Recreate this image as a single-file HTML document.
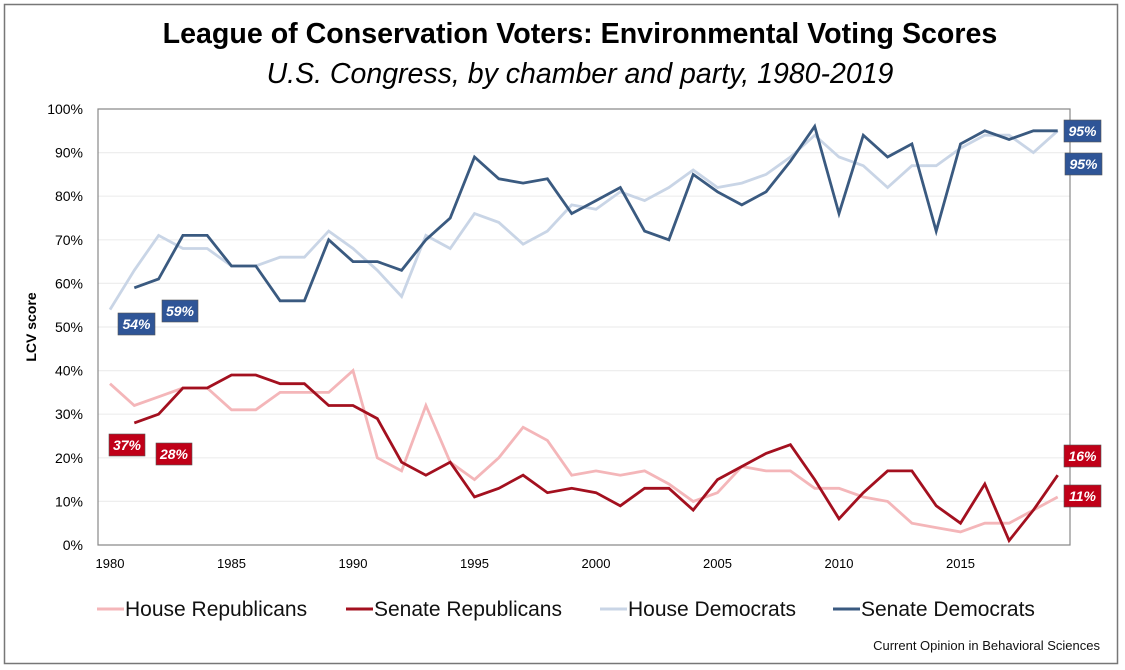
<!DOCTYPE html>
<html><head><meta charset="utf-8"><style>
body{margin:0;background:#fff;}
svg{display:block;font-family:"Liberation Sans",Arial,sans-serif;}
</style></head><body>
<svg id="chart" width="1125" height="670" viewBox="0 0 1125 670">
<rect x="4.5" y="4.5" width="1113" height="659" fill="#fff" stroke="#777" stroke-width="1.5"/>
<text x="580" y="43" text-anchor="middle" font-size="28.6" font-weight="bold" fill="#000">League of Conservation Voters: Environmental Voting Scores</text>
<text x="580" y="83" text-anchor="middle" font-size="28.5" font-style="italic" fill="#000">U.S. Congress, by chamber and party, 1980-2019</text>
<g id="grid"></g>
<rect x="98" y="109" width="972" height="436" fill="none" stroke="#888" stroke-width="1.2"/>
<g id="yt"></g><g id="xt"></g>
<text transform="translate(36,327) rotate(-90)" text-anchor="middle" font-size="14" font-weight="bold">LCV score</text>
<g id="series"></g>
<g id="labels"></g>
<g id="legend"></g>
<text x="1100" y="650" text-anchor="end" font-size="13" fill="#111">Current Opinion in Behavioral Sciences</text>
</svg>
<script>
const years=[];for(let y=1980;y<=2019;y++)years.push(y);
const houseRep=[37,32,34,36,36,31,31,35,35,35,40,20,17,32,19,15,20,27,24,16,17,16,17,14,10,12,18,17,17,13,13,11,10,5,4,3,5,5,8,11];
const senateRep=[null,28,30,36,36,39,39,37,37,32,32,29,19,16,19,11,13,16,12,13,12,9,13,13,8,15,18,21,23,15,6,12,17,17,9,5,14,1,8,16];
const houseDem=[54,63,71,68,68,64,64,66,66,72,68,63,57,71,68,76,74,69,72,78,77,81,79,82,86,82,83,85,89,94,89,87,82,87,87,91,94,94,90,95];
const senateDem=[null,59,61,71,71,64,64,56,56,70,65,65,63,70,75,89,84,83,84,76,79,82,72,70,85,81,78,81,88,96,76,94,89,92,72,92,95,93,95,95];
const yTicks=[0,10,20,30,40,50,60,70,80,90,100];
const xTicks=[1980,1985,1990,1995,2000,2005,2010,2015];
const NS="http://www.w3.org/2000/svg";
const X=y=>110+(y-1980)*24.3;
const Y=v=>545-v*4.36;
function mk(tag,attrs,parent,text){const e=document.createElementNS(NS,tag);for(const k in attrs)e.setAttribute(k,attrs[k]);if(text!=null)e.textContent=text;parent.appendChild(e);return e;}
const grid=document.getElementById('grid'),yt=document.getElementById('yt'),xt=document.getElementById('xt');
yTicks.forEach(v=>{
 const l=mk('line',{x1:98,x2:1070,y1:Y(v),y2:Y(v),stroke:'#eee','stroke-width':1.2},grid);
 
 
 const t=mk('text',{x:83,y:Y(v)+5,'text-anchor':'end','font-size':14},yt,v+'%');
 
 
});
xTicks.forEach(v=>{
 const t=mk('text',{x:X(v),y:568,'text-anchor':'middle','font-size':13},xt,String(v));
 
 
});
const ser=[
 {d:houseDem,c:'#c9d5e6',n:'house-democrats-line'},
 {d:houseRep,c:'#f4b6b9',n:'house-republicans-line'},
 {d:senateDem,c:'#3a5a80',n:'senate-democrats-line'},
 {d:senateRep,c:'#a3101f',n:'senate-republicans-line'}];
const sg=document.getElementById('series');
ser.forEach(s=>{
 let p='';s.d.forEach((v,i)=>{if(v==null)return;p+=(p?'L':'M')+X(years[i]).toFixed(1)+','+Y(v).toFixed(1);});
 const e=mk('path',{d:p,fill:'none',stroke:s.c,'stroke-width':2.8,'stroke-linejoin':'miter'},sg);
 
 
});
const lg=document.getElementById('labels');
function badge(x,y,w,txt,fill,name){
 const g=mk('g',{},lg);
 
 
 mk('rect',{x:x,y:y,width:w,height:22,fill:fill,stroke:'#555','stroke-width':0.6},g);
 mk('text',{x:x+w/2,y:y+16,'text-anchor':'middle','font-size':14,'font-style':'italic','font-weight':'bold',fill:'#fff'},g,txt);
}
badge(118,313,37,houseDem[0]+'%','#2f5597','label-house-dem-start');
badge(162,300,36,senateDem[1]+'%','#2f5597','label-senate-dem-start');
badge(109,434,36,houseRep[0]+'%','#c00018','label-house-rep-start');
badge(156,443,36,senateRep[1]+'%','#c00018','label-senate-rep-start');
badge(1064,120,37,senateDem[39]+'%','#2f5597','label-senate-dem-end');
badge(1065,153,37,houseDem[39]+'%','#2f5597','label-house-dem-end');
badge(1064,445,37,senateRep[39]+'%','#c00018','label-senate-rep-end');
badge(1064,485,37,houseRep[39]+'%','#c00018','label-house-rep-end');
const leg=document.getElementById('legend');
[['House Republicans','#f4b6b9',97],['Senate Republicans','#a3101f',346],['House Democrats','#c9d5e6',600],['Senate Democrats','#3a5a80',833]].forEach((it,i)=>{
 const g=mk('g',{},leg);
 
 
 mk('line',{x1:it[2],x2:it[2]+27,y1:609,y2:609,stroke:it[1],'stroke-width':3},g);
 mk('text',{x:it[2]+28,y:616,'font-size':21,fill:'#111'},g,it[0]);
});
</script>
</body></html>
